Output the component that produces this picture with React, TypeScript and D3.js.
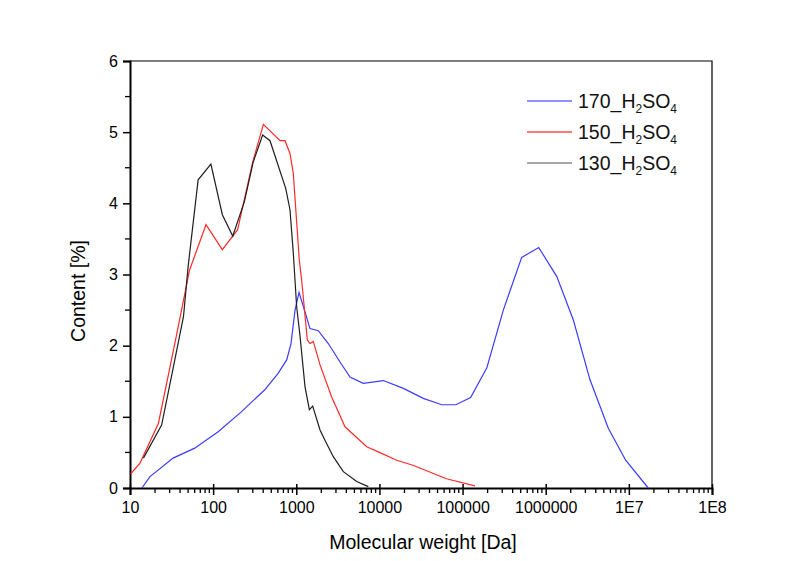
import * as d3 from 'd3';
import React, { useEffect, useRef } from 'react';

// molecular weight [Da] / content [%]
const mw170 = [13.9, 17.4, 33, 60, 115, 218, 418, 604, 767, 864, 966, 1079, 1216, 1462, 1840, 2426, 3357, 4425, 6400, 11140, 19400, 33700, 56100, 83000, 125000, 196000, 309000, 514000, 824000, 1360000, 2150000, 3410000, 5660000, 9160000, 17100000];
const c170 = [0, 0.16, 0.42, 0.56, 0.79, 1.07, 1.38, 1.61, 1.8, 2.03, 2.5, 2.75, 2.55, 2.24, 2.21, 2.03, 1.77, 1.56, 1.47, 1.51, 1.4, 1.26, 1.17, 1.17, 1.27, 1.69, 2.5, 3.24, 3.38, 2.97, 2.36, 1.52, 0.84, 0.39, 0];

const mw150 = [10.2, 13.2, 22, 36, 52, 82, 129, 197, 299, 402, 637, 731, 840, 921, 1087, 1161, 1358, 1462, 1603, 1930, 2665, 3855, 7030, 10000, 16100, 25300, 64000, 141000];
const c150 = [0.2, 0.35, 0.91, 2.13, 3.06, 3.7, 3.35, 3.63, 4.58, 5.11, 4.88, 4.88, 4.7, 4.42, 3.2, 2.92, 2.08, 2.03, 2.06, 1.73, 1.28, 0.86, 0.58, 0.5, 0.39, 0.32, 0.13, 0.03];

const mw130 = [14.5, 24, 33, 44, 50, 66, 94, 129, 172, 237, 303, 394, 483, 746, 840, 921, 1010, 1110, 1274, 1436, 1575, 1930, 2213, 2786, 3680, 5330, 7350];
const c130 = [0.42, 0.885, 1.68, 2.41, 3.11, 4.33, 4.55, 3.84, 3.54, 4.02, 4.58, 4.96, 4.88, 4.21, 3.91, 3.3, 2.55, 2.13, 1.42, 1.1, 1.15, 0.815, 0.67, 0.44, 0.23, 0.09, 0.02];

const xTickValues = [10, 100, 1000, 10000, 100000, 1000000, 10000000, 100000000];
const xTickLabels = ['10', '100', '1000', '10000', '100000', '1000000', '1E7', '1E8'];
const yTickValues = [0, 1, 2, 3, 4, 5, 6];

const seriesNames = ['170', '150', '130'];
const seriesColors = ['#3b3bff', '#ff2a2a', '#1e1e1e'];
const legendLineColors = ['#6a6aff', '#ff4a4a', '#8a8a8a'];

const App = () => {
  const ref = useRef<SVGSVGElement>(null);

  useEffect(() => {
    const width = 807, height = 561;
    const margin = { top: 61, right: 95, bottom: 73, left: 130 };
    const font = 'Arial, "Liberation Sans", sans-serif';

    const svg = d3.select(ref.current);
    svg.selectAll('*').remove();

    const x = d3.scaleLog()
      .domain([10, 1e8])
      .range([margin.left, width - margin.right]);

    const y = d3.scaleLinear()
      .domain([0, 6])
      .range([height - margin.bottom, margin.top]);

    svg.append('rect')
      .attr('width', width)
      .attr('height', height)
      .attr('fill', '#fff');

    // frame: top + right thin
    svg.append('path')
      .attr('d', `M${x(10)},${y(6)}H${x(1e8)}V${y(0)}`)
      .attr('fill', 'none')
      .attr('stroke', '#000')
      .attr('stroke-width', 1.2);

    // x axis, major ticks crossing the axis, minor ticks outward
    const minor: number[] = [];
    for (let d = 10; d < 1e8; d *= 10) {
      for (let k = 2; k <= 9; k++) minor.push(d * k);
    }
    const xAxis = d3.axisBottom(x)
      .tickValues(xTickValues)
      .tickSize(7)
      .tickPadding(7)
      .tickFormat((_, i) => xTickLabels[i]);

    const gx = svg.append('g')
      .attr('transform', `translate(0,${y(0)})`)
      .call(xAxis);
    gx.select('.domain').attr('stroke-width', 2);
    gx.selectAll('.tick line').attr('y1', -4).attr('stroke-width', 1.5);
    gx.selectAll('text')
      .attr('font-family', font)
      .attr('font-size', 16)
      .attr('fill', '#000');

    svg.append('g')
      .attr('transform', `translate(0,${y(0)})`)
      .selectAll('line')
      .data(minor)
      .join('line')
      .attr('x1', d => x(d))
      .attr('x2', d => x(d))
      .attr('y1', 0)
      .attr('y2', 5)
      .attr('stroke', '#000')
      .attr('stroke-width', 1.3);

    const yAxis = d3.axisLeft(y)
      .tickValues(yTickValues)
      .tickSize(7)
      .tickPadding(5)
      .tickFormat(d3.format('d'));

    const gy = svg.append('g')
      .attr('transform', `translate(${x(10)},0)`)
      .call(yAxis);
    gy.select('.domain').attr('stroke-width', 2);
    gy.selectAll('.tick line').attr('stroke-width', 1.5);
    gy.selectAll('text')
      .attr('font-family', font)
      .attr('font-size', 16)
      .attr('fill', '#000');

    svg.append('g')
      .selectAll('line')
      .data(d3.range(0.5, 6, 1))
      .join('line')
      .attr('x1', x(10))
      .attr('x2', x(10) - 5)
      .attr('y1', d => y(d))
      .attr('y2', d => y(d))
      .attr('stroke', '#000')
      .attr('stroke-width', 1.3);

    // axis titles
    svg.append('text')
      .attr('x', 423)
      .attr('y', 549)
      .attr('text-anchor', 'middle')
      .attr('font-family', font)
      .attr('font-size', 19.5)
      .text('Molecular weight [Da]');

    svg.append('text')
      .attr('transform', 'translate(85,291) rotate(-90)')
      .attr('text-anchor', 'middle')
      .attr('font-family', font)
      .attr('font-size', 19.5)
      .text('Content [%]');

    // lines
    const line = d3.line<[number, number]>()
      .x(d => x(d[0]))
      .y(d => y(d[1]));

    const series = [
      d3.zip(mw170, c170),
      d3.zip(mw150, c150),
      d3.zip(mw130, c130),
    ] as [number, number][][];

    svg.append('g')
      .selectAll('path')
      .data(series)
      .join('path')
      .attr('d', d => line(d))
      .attr('fill', 'none')
      .attr('stroke', (_, i) => seriesColors[i])
      .attr('stroke-width', 1.2);

    // legend
    const lg = svg.append('g').attr('transform', 'translate(527,101)');
    seriesNames.forEach((name, i) => {
      const row = lg.append('g').attr('transform', `translate(0,${i * 31})`);
      row.append('line')
        .attr('x1', 0)
        .attr('x2', 45)
        .attr('stroke', legendLineColors[i])
        .attr('stroke-width', 1.5);
      const t = row.append('text')
        .attr('x', 51)
        .attr('y', 7)
        .attr('font-family', font)
        .attr('font-size', 19.5)
        .attr('fill', '#111');
      t.append('tspan').text(`${name}_H`);
      t.append('tspan').attr('dy', 5).attr('font-size', 12).text('2');
      t.append('tspan').attr('dy', -5).text('SO');
      t.append('tspan').attr('dy', 5).attr('font-size', 12).text('4');
    });
  }, []);

  return (
    <svg
      ref={ref}
      width={807}
      height={561}
      style={{ position: 'absolute', left: 0, top: 0, display: 'block' }}
    />
  );
};

export default App;
